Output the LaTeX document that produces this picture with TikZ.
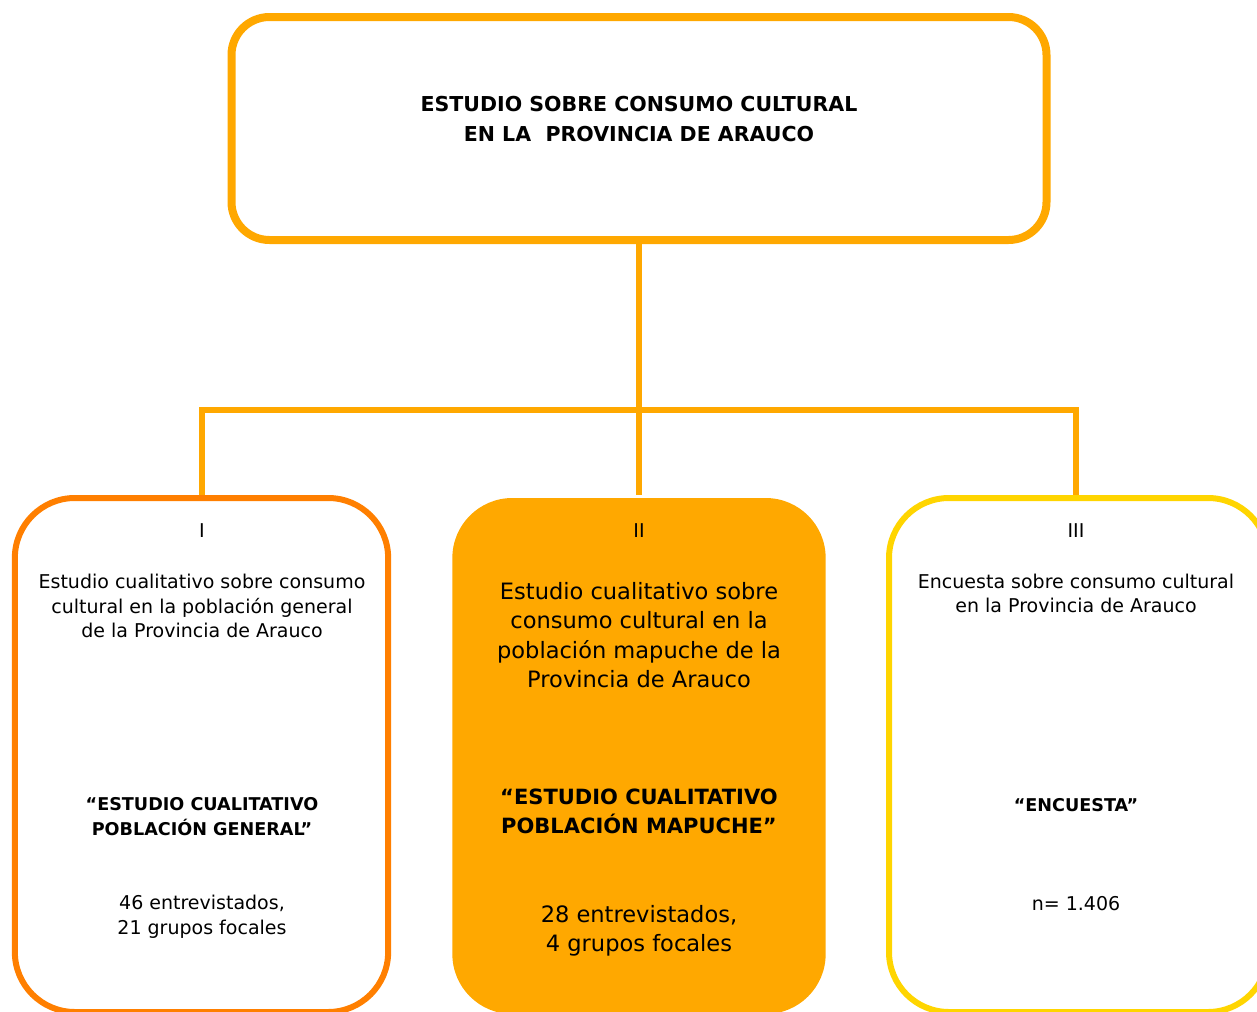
\documentclass[tikz,border=0pt]{standalone}
\usepackage{fontspec}
\setmainfont{DejaVu Sans}
\usetikzlibrary{backgrounds}

\definecolor{amber}{HTML}{FFA800}
\definecolor{boxorange}{HTML}{FF7F00}
\definecolor{boxyellow}{HTML}{FFD500}

\newcommand{\bodyfont}{\fontsize{14.25pt}{18.4pt}\selectfont}
\newcommand{\bigbodyfont}{\fontsize{16.9pt}{22pt}\selectfont}
\newcommand{\headfont}{\fontsize{15.4pt}{22.5pt}\selectfont\bfseries}
\newcommand{\quotefont}{\fontsize{13.2pt}{18.75pt}\selectfont\bfseries}
\newcommand{\bigquotefont}{\fontsize{15.75pt}{21.75pt}\selectfont\bfseries}

\tikzset{
  panel/.style={rectangle, rounded corners=45pt, minimum width=280pt, minimum height=385.5pt, line width=4.5pt},
  txt/.style={align=center, inner sep=0pt, font=\bodyfont},
  link/.style={draw=amber, line width=4.5pt},
}

\begin{document}
\begin{tikzpicture}[x=0.75pt, y=-0.75pt]
    \useasboundingbox (0,0) rectangle (1257,1011);
    % boxes
    \node[draw=amber, line width=6pt, rounded corners=28.5pt, minimum width=611.25pt, minimum height=167.25pt] (study) at (639,128.5) {};
    \node[panel, draw=boxorange] (left) at (201.5,755) {};
    \node[panel, fill=amber, minimum height=387pt] (mid) at (639,756) {};
    \node[panel, draw=boxyellow, minimum width=284.25pt] (right) at (1078.5,755) {};
    \coordinate (hub) at (639,410);
    \coordinate (rtop) at (1076,498);
    % texts
    \node[txt, font=\headfont] (title) at (639,119) {ESTUDIO SOBRE CONSUMO CULTURAL\\EN LA\ \ PROVINCIA DE ARAUCO};
    \node[txt] (numI) at (202,531) {I};
    \node[txt] (descI) at (202,606) {Estudio cualitativo sobre consumo\\cultural en la población general\\de la Provincia de Arauco};
    \node[txt, font=\quotefont] (nameI) at (202,816.5) {“ESTUDIO CUALITATIVO\\POBLACIÓN GENERAL”};
    \node[txt] (sizeI) at (202,917) {46 entrevistados,\\21 grupos focales};
    \node[txt] (numII) at (639,531) {II};
    \node[txt, font=\bigbodyfont] (descII) at (639,635) {Estudio cualitativo sobre\\consumo cultural en la\\población mapuche de la\\Provincia de Arauco};
    \node[txt, font=\bigquotefont] (nameII) at (639,811.5) {“ESTUDIO CUALITATIVO\\POBLACIÓN MAPUCHE”};
    \node[txt, font=\bigbodyfont] (sizeII) at (639,930.5) {28 entrevistados,\\4 grupos focales};
    \node[txt] (numIII) at (1076,531) {III};
    \node[txt] (descIII) at (1076,593.5) {Encuesta sobre consumo cultural\\en la Provincia de Arauco};
    \node[txt, font=\quotefont] (nameIII) at (1076,805) {“ENCUESTA”};
    \node[txt] (sizeIII) at (1076,904) {n= 1.406};
    % connectors
    \begin{scope}[on background layer]
      \draw[link] (study.south) -- (mid.north);
      \draw[link] (left.north) -- (left.north |- hub) -- (rtop |- hub) -- (rtop);
    \end{scope}
\end{tikzpicture}
\end{document}
